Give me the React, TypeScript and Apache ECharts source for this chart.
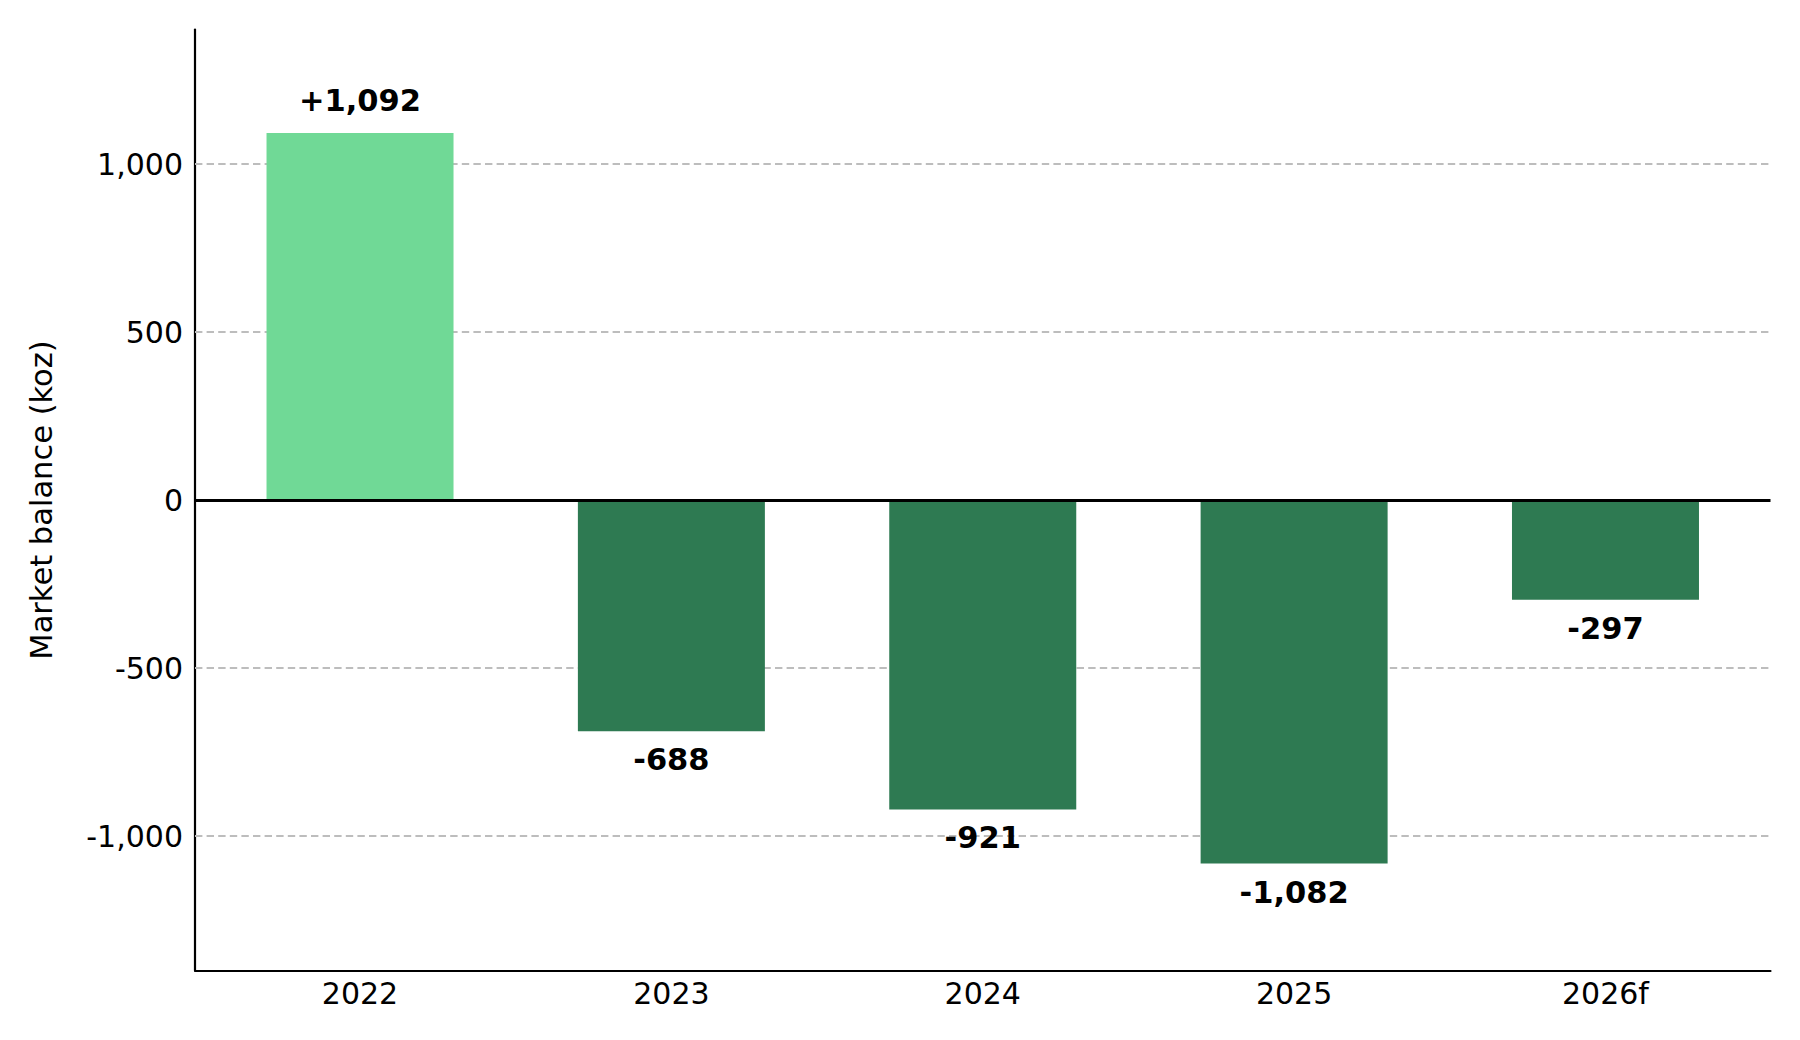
import React, { useEffect, useRef } from "react";
import * as echarts from "echarts";

const categories = ["2022", "2023", "2024", "2025", "2026f"];
const balance = [1092, -688, -921, -1082, -297];
const yTicks = [-1000, -500, 0, 500, 1000];
const gridValues = [-1000, -500, 500, 1000];

const LIGHT = "#70d996";
const DARK = "#2e7a52";
const FONT = "DejaVu Sans";
const FS = 30;

const fmt = (v: number) => {
  const s = Math.abs(v).toLocaleString("en-US");
  return v < 0 ? "-" + s : s;
};

export default function App() {
  const ref = useRef<HTMLDivElement>(null);
  useEffect(() => {
    if (!ref.current) return;
    const chart = echarts.init(ref.current, undefined, { renderer: "svg" });
    chart.setOption({
      animation: false,
      backgroundColor: "#ffffff",
      grid: { left: 195, right: 29.5, top: 29.6, bottom: 69.6 },
      xAxis: {
        type: "value",
        min: -0.53,
        max: 4.53,
        axisLine: { show: true, onZero: false, lineStyle: { color: "#000", width: 2.2 } },
        axisTick: { show: false },
        splitLine: { show: false },
        axisLabel: {
          customValues: categories.map((_, i) => i),
          formatter: (v: number) => categories[Math.round(v)] ?? "",
          color: "#000",
          fontFamily: FONT,
          fontSize: FS,
          margin: 8,
        },
      },
      yAxis: {
        type: "value",
        min: -1400,
        max: 1400,
        name: "Market balance (koz)",
        nameLocation: "middle",
        nameGap: 138,
        nameTextStyle: { color: "#000", fontFamily: FONT, fontSize: 30.5 },
        axisLine: { show: true, onZero: false, lineStyle: { color: "#000", width: 2.2 } },
        axisTick: { show: false },
        splitLine: { show: false },
        axisLabel: {
          customValues: yTicks,
          formatter: (v: number) => fmt(v),
          color: "#000",
          fontFamily: FONT,
          fontSize: FS,
          margin: 12,
        },
      },
      series: [
        {
          type: "line",
          data: [],
          z: 1,
          silent: true,
          markLine: {
            z: 1,
            silent: true,
            symbol: "none",
            label: { show: false },
            lineStyle: { color: "#bdbdbd", width: 2, type: [7.4, 4.2] },
            data: gridValues.map((v) => ({ yAxis: v })),
          },
        },
        {
          type: "bar",
          z: 3,
          barWidth: 187,
          data: balance.map((v, i) => ({
            value: [i, v],
            itemStyle: { color: v >= 0 ? LIGHT : DARK },
            label: {
              show: true,
              position: v >= 0 ? "top" : "bottom",
              distance: v >= 0 ? 17 : 13,
              formatter: () => (v > 0 ? "+" : "") + fmt(v),
              color: "#000",
              fontFamily: FONT,
              fontSize: 30.5,
              fontWeight: "bold",
            },
          })),
          markLine: {
            z: 6,
            silent: true,
            symbol: "none",
            label: { show: false },
            lineStyle: { color: "#000", width: 2.8, type: "solid" },
            data: [{ yAxis: 0 }],
          },
        },
      ],
    });
    return () => chart.dispose();
  }, []);
  return (
    <div
      ref={ref}
      style={{ position: "fixed", left: 0, top: 0, width: 1800, height: 1040, background: "#fff" }}
    />
  );
}
